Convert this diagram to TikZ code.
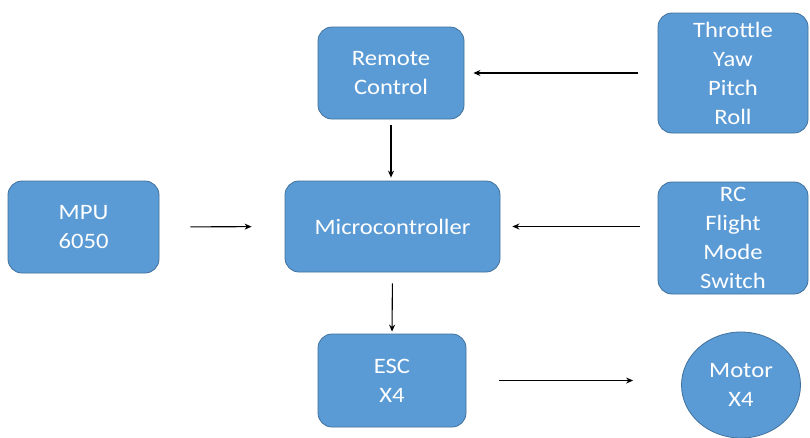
\documentclass[tikz,border=0pt]{standalone}
\usepackage{fontspec}
\setmainfont[FakeStretch=1.12]{Carlito}
\usetikzlibrary{arrows.meta,shapes.geometric}
\definecolor{boxfill}{RGB}{91,155,213}
\definecolor{boxline}{RGB}{65,113,156}
\begin{document}
\begin{tikzpicture}[x=1pt,y=-1pt,
  blk/.style={draw=boxline,fill=boxfill,line width=0.8pt,rounded corners=14pt,
    text=white,align=center,inner sep=0pt,
    font=\fontsize{22}{29}\selectfont},
  arr/.style={-{Stealth[length=7pt,width=6pt]},line width=1.1pt,black}]
\useasboundingbox[fill=white] (0,0) rectangle (810,437);
\node[blk,minimum width=146pt,minimum height=92pt] (rem) at (391,73) {Remote\\Control};
\node[blk,minimum width=150pt,minimum height=120pt] (thr) at (733,73) {Throttle\\Yaw\\Pitch\\Roll};
\node[blk,minimum width=151pt,minimum height=92pt] (mpu) at (83.5,227) {MPU\\6050};
\node[blk,minimum width=215pt,minimum height=91pt] (mc) at (392.5,226.5) {Microcontroller};
\node[blk,minimum width=150pt,minimum height=112pt] (rcs) at (733,238) {RC\\Flight\\Mode\\Switch};
\node[blk,minimum width=148pt,minimum height=93pt] (esc) at (392,380.5) {ESC\\X4};
\node[blk,ellipse,minimum width=119pt,minimum height=106pt] (mot) at (741,385) {Motor\\X4};
\draw[arr,shorten <=20pt,shorten >=9pt] (thr.west) -- (rem.east);
\draw[arr,shorten <=6pt,shorten >=3pt] (rem.south) -- (rem.south |- mc.north);
\draw[arr,shorten <=31pt,shorten >=33pt] (mpu.east) -- (mc.west);
\draw[arr,shorten <=18pt,shorten >=12pt] (rcs.west |- mc.east) -- (mc.east);
\draw[arr,shorten <=11pt,shorten >=2pt] (mc.south) -- (esc.north);
\draw[arr,shorten <=33pt,shorten >=48pt] (esc.east) -- (mot.west |- esc.east);
\end{tikzpicture}
\end{document}
